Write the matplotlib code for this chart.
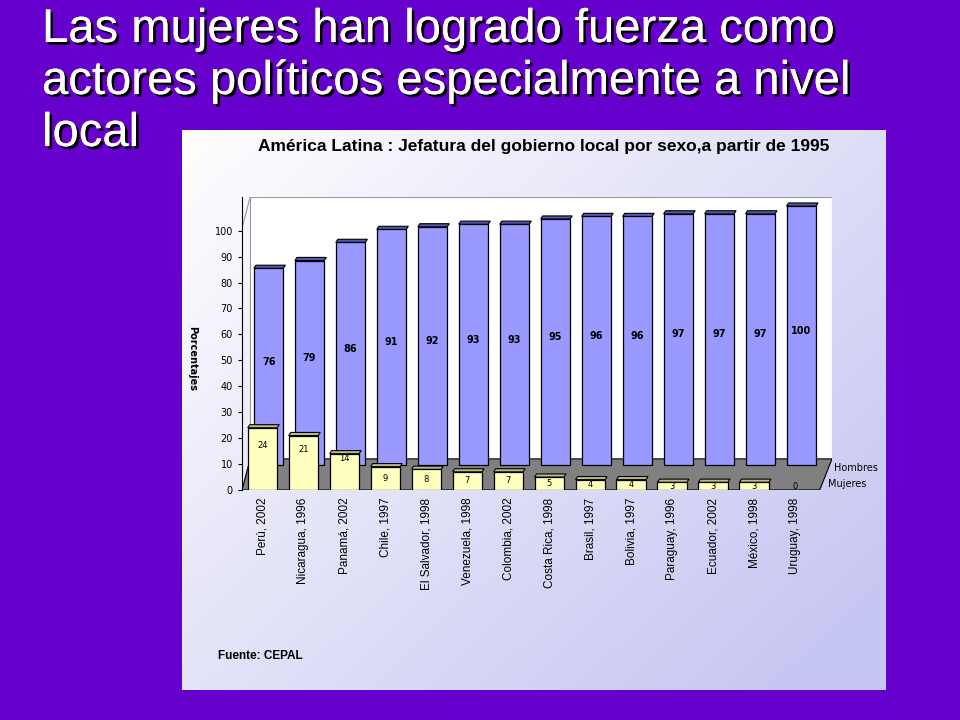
import numpy as np
import matplotlib
matplotlib.use("Agg")
import matplotlib.pyplot as plt
from matplotlib.patches import Polygon, Rectangle
import matplotlib.patheffects as pe

countries = ["Perú, 2002", "Nicaragua, 1996", "Panamá, 2002", "Chile, 1997", "El Salvador, 1998",
             "Venezuela, 1998", "Colombia, 2002", "Costa Rica, 1998", "Brasil, 1997", "Bolivia, 1997",
             "Paraguay, 1996", "Ecuador, 2002", "México, 1998", "Uruguay, 1998"]
mujeres = [24, 21, 14, 9, 8, 7, 7, 5, 4, 4, 3, 3, 3, 0]
hombres = [76, 79, 86, 91, 92, 93, 93, 95, 96, 96, 97, 97, 97, 100]
yticks = [0, 10, 20, 30, 40, 50, 60, 70, 80, 90, 100]

W, H = 960, 720
fig = plt.figure(figsize=(9.6, 7.2), dpi=100)
fig.patch.set_facecolor("#6600CC")

bg = fig.add_axes([0, 0, 1, 1]); bg.set_xlim(0, W); bg.set_ylim(H, 0); bg.axis("off")
gx = np.linspace(0, 1, 200)[None, :]
gy = np.linspace(0, 1, 200)[:, None]
t = np.clip(0.6 * gx + 0.5 * gy, 0, 1)
c0 = np.array([1, 1, 1]); c1 = np.array([0.78, 0.78, 0.95])
img = c0 + (c1 - c0) * t[..., None]
bg.imshow(img, extent=[182, 886, 690, 130], aspect="auto", zorder=1)

for i, line in enumerate(["Las mujeres han logrado fuerza como",
                          "actores políticos especialmente a nivel", "local"]):
    bg.text(42, 30 + i * 52, line, color="white", fontsize=34, family="Liberation Sans",
            va="center", ha="left", zorder=5,
            path_effects=[pe.withSimplePatchShadow(offset=(2, -2), shadow_rgbFace="black", alpha=1), pe.Normal()])

bg.text(258, 146, "América Latina : Jefatura del gobierno local por sexo,a partir de 1995",
        fontsize=12.5, weight="bold", family="Liberation Sans", va="center", zorder=5)
bg.text(218, 656, "Fuente: CEPAL", fontsize=8.5, weight="bold", family="Liberation Sans", va="center", zorder=5)
bg.text(192, 358, "Porcentajes", fontsize=7, weight="bold", rotation=-90, va="center", ha="center", zorder=5)
bg.text(834, 468, "Hombres", fontsize=7, va="center", zorder=5)
bg.text(828, 484, "Mujeres", fontsize=7, va="center", zorder=5)
bg.plot([782, 808], [482, 482], color="black", lw=3, zorder=5)

left, right, bottom, top = 242, 832, 490, 197
ax = fig.add_axes([left / W, 1 - bottom / H, (right - left) / W, (bottom - top) / H])
ax.set_xlim(-0.5, 13.9); ax.set_ylim(0, 113)
ax.patch.set_alpha(0)
for s in ["top", "right", "bottom"]:
    ax.spines[s].set_visible(False)
ax.set_yticks(yticks)
ax.tick_params(axis="y", labelsize=7, length=3)
ax.set_xticks([])

dx, dy = 0.2, 12
ax.add_patch(Polygon([(-0.5 + dx, dy), (13.9, dy), (13.9, 113), (-0.5 + dx, 113)],
                     closed=True, facecolor="white", edgecolor="#999999", lw=0.8, zorder=0))
ax.plot([-0.5, -0.5 + dx], [113 - dy, 113], color="#999999", lw=0.8)
ax.add_patch(Polygon([(-0.5, 0), (13.6, 0), (13.9, dy), (-0.5 + dx, dy)],
                     closed=True, facecolor="#808080", edgecolor="black", lw=0.8, zorder=1))

x = np.arange(len(countries))
w = 0.72
off = 9.5
for xi, h in zip(x, hombres):
    b = off
    ax.add_patch(Rectangle((xi + 0.15 - w / 2, b), w, h, facecolor="#9999FF", edgecolor="black", lw=0.9, zorder=2))
    ax.add_patch(Polygon([(xi + 0.15 - w / 2, b + h), (xi + 0.15 + w / 2, b + h),
                          (xi + 0.2 + w / 2, b + h + 1.2), (xi + 0.2 - w / 2, b + h + 1.2)],
                         facecolor="#5555AA", edgecolor="black", lw=0.8, zorder=2))
    ax.text(xi + 0.15, b + h / 2 + 2, str(h), ha="center", va="center", fontsize=7, weight="bold", zorder=3)
for xi, m in zip(x, mujeres):
    if m > 0:
        ax.add_patch(Rectangle((xi - w / 2, 0), w, m, facecolor="#FFFFC0", edgecolor="black", lw=0.9, zorder=4))
        ax.add_patch(Polygon([(xi - w / 2, m), (xi + w / 2, m), (xi + 0.05 + w / 2, m + 1.2),
                              (xi + 0.05 - w / 2, m + 1.2)],
                             facecolor="#BBBB88", edgecolor="black", lw=0.8, zorder=4))
    ax.text(xi, max(m, 3) / 2 + (5 if m > 10 else 0), str(m), ha="center", va="center", fontsize=6, zorder=5)

for xi, c in zip(x, countries):
    ax.text(xi, -3, c, rotation=90, ha="center", va="top", fontsize=8.5, family="Liberation Sans", zorder=5)

fig.savefig("out.png", dpi=100, facecolor=fig.get_facecolor())
